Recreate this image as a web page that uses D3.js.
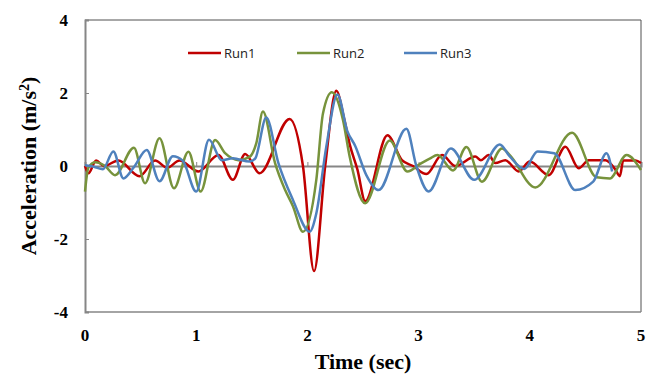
<!DOCTYPE html>
<html>
<head>
<meta charset="utf-8">
<script src="https://cdn.jsdelivr.net/npm/d3@7"></script>
<style>
  body { margin: 0; background: #fff; }
  svg { display: block; }
</style>
</head>
<body>
<div id="chart-area"></div>
<script>

// values: [time (sec), acceleration (m/s2)]
var run1 = [[0,0],[0.03,-0.2],[0.1,0.15],[0.17,0.0],[0.3,0.15],[0.49,-0.28],[0.63,0.15],[0.74,-0.05],[0.85,0.15],
    [1.02,-0.15],[1.2,0.3],[1.33,-0.38],[1.44,0.33],[1.57,-0.2],[1.84,1.29],[1.96,0],[2.06,-2.88],[2.16,0],
    [2.26,2.06],[2.33,1.3],[2.38,0.6],[2.45,-0.1],[2.52,-0.96],[2.72,0.84],[2.85,0.16],[2.95,0.0],[3.07,-0.22],
    [3.21,0.3],[3.33,0.0],[3.51,0.26],[3.56,0.16],[3.63,0.3],[3.69,0.08],[3.78,0.16],[3.9,-0.15],[4.0,0.12],
    [4.17,-0.25],[4.32,0.53],[4.44,-0.06],[4.53,0.16],[4.68,0.16],[4.77,-0.1],[4.81,-0.28],[4.84,0.15],
    [4.95,0.15],[5,0.08]];

var run2 = [[0,-0.7],[0.03,-0.05],[0.09,0.1],[0.18,0.0],[0.27,-0.25],[0.44,0.5],[0.54,-0.47],[0.67,0.76],
    [0.8,-0.61],[0.93,0.39],[1.04,-0.7],[1.17,0.71],[1.26,0.35],[1.38,0.16],[1.48,0.25],[1.54,0.62],[1.6,1.49],
    [1.71,0.07],[1.8,-0.66],[1.87,-1.1],[1.96,-1.8],[2.08,-0.38],[2.14,1.44],[2.22,2.02],[2.32,1.26],[2.38,0.26],
    [2.52,-1.02],[2.74,0.7],[2.9,-0.15],[3.01,0.05],[3.1,0.2],[3.17,0.3],[3.31,-0.12],[3.43,0.52],[3.57,-0.43],
    [3.75,0.48],[3.82,0.3],[4.05,-0.59],[4.38,0.91],[4.6,-0.31],[4.72,-0.34],[4.87,0.3],[5,-0.11]];

var run3 = [[0,0.02],[0.08,-0.02],[0.16,-0.09],[0.255,0.4],[0.345,-0.34],[0.44,-0.03],[0.555,0.44],[0.67,-0.42],
    [0.79,0.27],[0.88,0.14],[1.0,-0.7],[1.115,0.72],[1.23,0.16],[1.33,0.21],[1.48,0.12],[1.53,0.2],[1.63,1.33],
    [1.74,0.07],[1.87,-0.93],[2.02,-1.8],[2.08,-1.3],[2.17,0.53],[2.27,1.96],[2.36,0.95],[2.43,0.55],[2.53,-0.25],
    [2.64,-0.66],[2.89,1.02],[2.98,0],[3.09,-0.7],[3.29,0.48],[3.5,-0.38],[3.73,0.59],[3.82,0.26],[3.95,-0.08],
    [4.07,0.4],[4.22,0.35],[4.41,-0.66],[4.57,-0.43],[4.69,0.35],[4.74,-0.15]];

var seriesNames = ["Run1", "Run2", "Run3"];
var seriesColors = ["#c00000", "#77933c", "#4f81bd"];
var xTicks = [0, 1, 2, 3, 4, 5];
var yTicks = [-4, -2, 0, 2, 4];

var margin = {left:85, right:21, top:20, bottom:64};
var width = 662 - margin.left - margin.right;
var height = 376 - margin.top - margin.bottom;

var svg = d3.select("#chart-area").append("svg")
    .attr("width", 662)
    .attr("height", 376);

var g = svg.append("g")
    .attr("transform", "translate(" + margin.left + "," + margin.top + ")");

var x = d3.scaleLinear().domain([0, 5]).range([0, width]);
var y = d3.scaleLinear().domain([-4, 4]).range([height, 0]);

// plot frame: top and right darker, left and bottom grey
g.append("line").attr("x1", 0).attr("x2", width).attr("y1", 0).attr("y2", 0)
    .attr("stroke", "#505050").attr("stroke-width", 1);
g.append("line").attr("x1", width).attr("x2", width).attr("y1", 0).attr("y2", height)
    .attr("stroke", "#505050").attr("stroke-width", 1);
g.append("line").attr("x1", 0).attr("x2", width).attr("y1", height).attr("y2", height)
    .attr("stroke", "#868686").attr("stroke-width", 1.5);

// y axis
var yAxis = g.append("g")
    .call(d3.axisRight(y).tickValues(yTicks).tickSize(4).tickFormat(""));
yAxis.select(".domain").attr("stroke", "#868686").attr("stroke-width", 2);
yAxis.selectAll(".tick line").attr("stroke", "#868686");

g.selectAll(".ylab")
    .data(yTicks)
    .enter().append("text")
    .attr("class", "ylab")
    .attr("x", -17)
    .attr("y", function(d) { return y(d) + 6; })
    .attr("text-anchor", "end")
    .attr("font-family", "Liberation Serif")
    .attr("font-weight", "bold")
    .attr("font-size", 17)
    .text(function(d) { return d; });

// x axis sits on zero, ticks point up
var xAxis = g.append("g")
    .attr("transform", "translate(0," + y(0) + ")")
    .call(d3.axisTop(x).tickValues(xTicks).tickSize(4).tickFormat(""));
xAxis.select(".domain").attr("stroke", "#868686").attr("stroke-width", 2);
xAxis.selectAll(".tick line").attr("stroke", "#868686");

g.selectAll(".xlab")
    .data(xTicks)
    .enter().append("text")
    .attr("class", "xlab")
    .attr("x", function(d) { return x(d); })
    .attr("y", height + 29)
    .attr("text-anchor", "middle")
    .attr("font-family", "Liberation Serif")
    .attr("font-weight", "bold")
    .attr("font-size", 17)
    .text(function(d) { return d; });

// axis titles
svg.append("text")
    .attr("x", margin.left + width / 2)
    .attr("y", 369)
    .attr("text-anchor", "middle")
    .attr("font-family", "Liberation Serif")
    .attr("font-weight", "bold")
    .attr("font-size", 22)
    .text("Time (sec)");

var yTitle = svg.append("text")
    .attr("transform", "translate(36," + (margin.top + height / 2) + ") rotate(-90)")
    .attr("text-anchor", "middle")
    .attr("font-family", "Liberation Serif")
    .attr("font-weight", "bold")
    .attr("font-size", 22);
yTitle.append("tspan").text("Acceleration (m/s");
yTitle.append("tspan").attr("baseline-shift", "super").attr("font-size", 14).text("2");
yTitle.append("tspan").text(")");

// lines
var line = d3.line()
    .x(function(d) { return x(d[0]); })
    .y(function(d) { return y(d[1]); })
    .curve(d3.curveMonotoneX);

[run1, run2, run3].forEach(function(data, i) {
    g.append("path")
        .datum(data)
        .attr("fill", "none")
        .attr("stroke", seriesColors[i])
        .attr("stroke-width", 2.5)
        .attr("stroke-linejoin", "round")
        .attr("d", line);
});

// LEGEND
var legendX = [188, 297, 404];
seriesNames.forEach(function(name, i) {
    var row = svg.append("g")
        .attr("transform", "translate(" + legendX[i] + ",53)");
    row.append("line")
        .attr("x1", 0).attr("x2", 33)
        .attr("stroke", seriesColors[i])
        .attr("stroke-width", 2.5);
    row.append("text")
        .attr("x", 36)
        .attr("y", 5)
        .attr("font-family", "Open Sans")
        .attr("font-size", 13)
        .attr("fill", "#222")
        .text(name);
});

</script>
</body>
</html>
